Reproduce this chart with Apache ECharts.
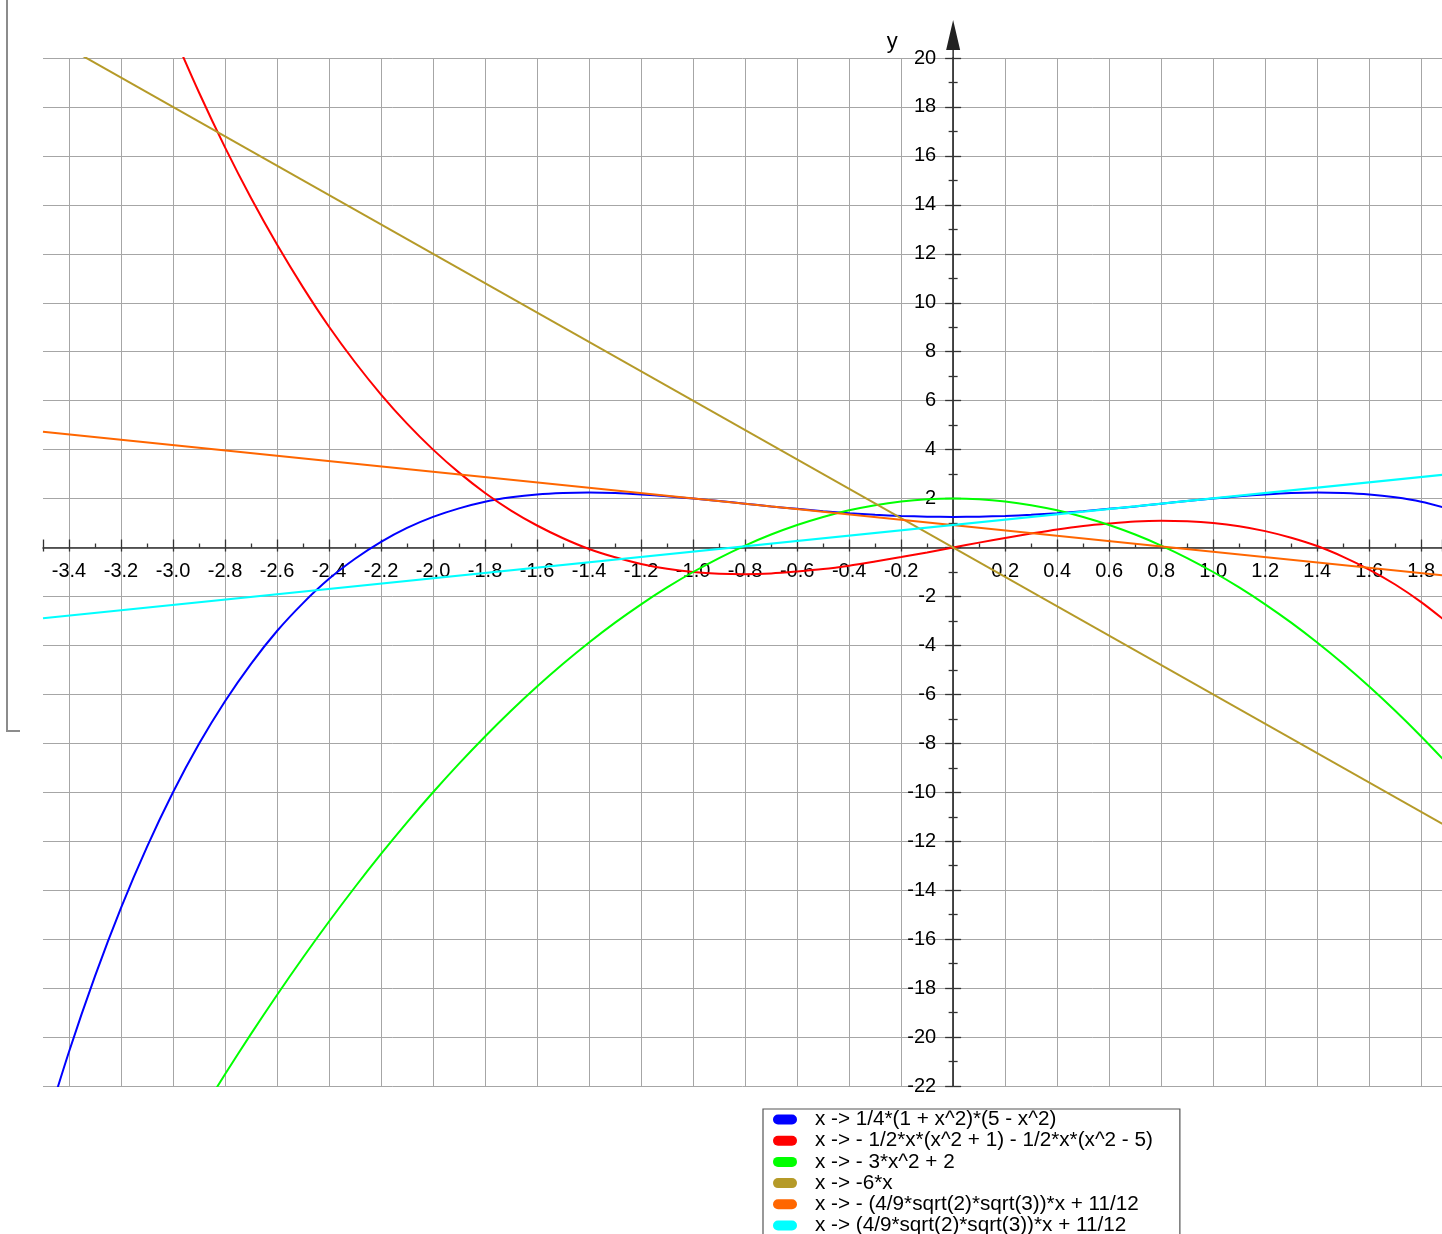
<!DOCTYPE html>
<html>
<head>
<meta charset="utf-8">
<title>plot</title>
<script src="https://cdn.jsdelivr.net/npm/echarts@6/dist/echarts.min.js"></script>
<style>
html, body { margin: 0; padding: 0; background: #fff; }
#main { width: 1442px; height: 1234px; }
</style>
</head>
<body>
<div id="main"></div>
<script>
// sample points along x
var xs = [-3.5, -3.4, -3.3, -3.2, -3.1, -3.0, -2.9, -2.8, -2.7, -2.6, -2.5, -2.4, -2.3, -2.2, -2.1,
    -2.0, -1.9, -1.8, -1.7, -1.6, -1.5, -1.4, -1.3, -1.2, -1.1, -1.0, -0.9, -0.8, -0.7, -0.6,
    -0.5, -0.4, -0.3, -0.2, -0.1, 0, 0.1, 0.2, 0.3, 0.4, 0.5, 0.6, 0.7, 0.8, 0.9,
    1.0, 1.1, 1.2, 1.3, 1.4, 1.5, 1.6, 1.7, 1.8, 1.9];

var blueY = [-24.02, -20.60, -17.51, -14.72, -12.23, -10.00, -8.02, -6.28, -4.75, -3.41, -2.27, -1.28, -0.46, 0.23, 0.80,
    1.25, 1.60, 1.87, 2.05, 2.17, 2.23, 2.25, 2.23, 2.17, 2.09, 2.00, 1.90, 1.79, 1.68, 1.58,
    1.48, 1.40, 1.34, 1.29, 1.26, 1.25, 1.26, 1.29, 1.34, 1.40, 1.48, 1.58, 1.68, 1.79, 1.90,
    2.00, 2.09, 2.17, 2.23, 2.25, 2.23, 2.17, 2.05, 1.87, 1.60];

var redY = [null, null, null, null, null, 21.00, 18.59, 16.35, 14.28, 12.38, 10.63, 9.02, 7.57, 6.25, 5.06,
    4.00, 3.06, 2.23, 1.51, 0.90, 0.38, -0.06, -0.40, -0.67, -0.87, -1.00, -1.07, -1.09, -1.06, -0.98,
    -0.88, -0.74, -0.57, -0.39, -0.20, 0, 0.20, 0.39, 0.57, 0.74, 0.88, 0.98, 1.06, 1.09, 1.07,
    1.00, 0.87, 0.67, 0.40, 0.06, -0.38, -0.90, -1.51, -2.23, -3.06];

var greenY = [null, null, null, null, null, null, -23.23, -21.52, -19.87, -18.28, -16.75, -15.28, -13.87, -12.52, -11.23,
    -10.00, -8.83, -7.72, -6.67, -5.68, -4.75, -3.88, -3.07, -2.32, -1.63, -1.00, -0.43, 0.08, 0.53, 0.92,
    1.25, 1.52, 1.73, 1.88, 1.97, 2.00, 1.97, 1.88, 1.73, 1.52, 1.25, 0.92, 0.53, 0.08, -0.43,
    -1.00, -1.63, -2.32, -3.07, -3.88, -4.75, -5.68, -6.67, -7.72, -8.83];

// straight lines: two end points each
var lineX = [-3.5, 1.9];
var oliveY = [21.0, -11.4];
var orangeY = [4.73, -1.15];
var cyanY = [-2.89, 2.99];

var names = [
    'x -> 1/4*(1 + x^2)*(5 - x^2)',
    'x -> - 1/2*x*(x^2 + 1) - 1/2*x*(x^2 - 5)',
    'x -> - 3*x^2 + 2',
    'x -> -6*x',
    'x -> - (4/9*sqrt(2)*sqrt(3))*x + 11/12',
    'x -> (4/9*sqrt(2)*sqrt(3))*x + 11/12'
];
var colors = ['#0000ff', '#ff0000', '#00ff00', '#b59a28', '#ff6600', '#00ffff'];

function pairs(xv, yv) {
    return xv.map(function (x, i) { return [x, yv[i]]; });
}

var seriesData = [
    pairs(xs, blueY),
    pairs(xs, redY),
    pairs(xs, greenY),
    pairs(lineX, oliveY),
    pairs(lineX, orangeY),
    pairs(lineX, cyanY)
];

var font = 'Liberation Sans';

// plot box and axis ranges
var gridLeft = 43, gridTop = 58, gridW = 1399, gridH = 1028;
var xMin = -3.5, xMax = 1.88, yMin = -22, yMax = 20;
// pixel position of the zero lines inside the grid, so the axes cross there
var zeroX = gridW * (0 - xMin) / (xMax - xMin);
var zeroY = gridH * (yMax - 0) / (yMax - yMin);

function xLabel(v) {
    var k = Math.round(v * 5);
    if (Math.abs(v * 5 - k) > 1e-6 || k === 0) return '';
    return (k / 5).toFixed(1);
}

var tickStyle = { color: '#333', width: 1.3 };

var myChart = echarts.init(document.getElementById('main'), null, { renderer: 'canvas' });

var option = {
    backgroundColor: '#ffffff',
    animation: false,
    textStyle: { fontFamily: font },
    grid: {
        left: gridLeft,
        top: gridTop,
        width: gridW,
        height: gridH,
        containLabel: false,
        outerBoundsMode: 'none'
    },
    legend: {
        orient: 'vertical',
        left: 763,
        top: 1109,
        height: 300,
        padding: [0, 27, 6, 10],
        itemGap: 0.2,
        itemWidth: 24,
        itemHeight: 10,
        icon: 'path://M5,0L19,0A5,5 0 0 1 19,10L5,10A5,5 0 0 1 5,0Z',
        itemStyle: { borderWidth: 0 },
        selectedMode: false,
        backgroundColor: '#ffffff',
        borderColor: '#555555',
        borderWidth: 1.2,
        borderRadius: 0,
        textStyle: {
            fontFamily: font,
            fontSize: 20.7,
            lineHeight: 20,
            color: '#000',
            padding: [0, 0, 0, 13]
        },
        data: names
    },
    xAxis: [
        {
            type: 'value',
            position: 'bottom',
            offset: -(gridH - zeroY),
            min: xMin,
            max: xMax,
            minInterval: 0.2,
            maxInterval: 0.2,
            axisLine: { onZero: false, lineStyle: { color: '#333', width: 1.5 } },
            axisTick: { show: true, length: 4, lineStyle: tickStyle },
            minorTick: { show: false },
            axisLabel: {
                margin: 14,
                fontSize: 20,
                fontFamily: font,
                color: '#000',
                formatter: xLabel
            },
            splitLine: {
                show: true,
                showMinLine: false,
                showMaxLine: false,
                lineStyle: { color: '#a6a6a6', width: 1 }
            }
        },
        {
            type: 'value',
            position: 'top',
            offset: -zeroY,
            min: xMin,
            max: xMax,
            minInterval: 0.2,
            maxInterval: 0.2,
            axisLine: { show: false, onZero: false },
            axisTick: { show: true, length: 8, lineStyle: tickStyle },
            minorTick: { show: true, splitNumber: 2, length: 4, lineStyle: tickStyle },
            axisLabel: { show: false },
            splitLine: { show: false }
        }
    ],
    yAxis: [
        {
            type: 'value',
            position: 'left',
            offset: -zeroX,
            min: yMin,
            max: yMax,
            interval: 2,
            name: 'y',
            nameLocation: 'end',
            nameGap: 5,
            nameTextStyle: {
                fontFamily: font,
                fontSize: 22,
                color: '#000',
                padding: [0, 122, 0, 0]
            },
            axisLine: {
                onZero: false,
                symbol: ['none', 'path://M7,0L14,30L7.7,30L7.7,38L6.3,38L6.3,30L0,30Z'],
                symbolSize: [14, 38],
                symbolOffset: [0, 19],
                lineStyle: { color: '#222', width: 1.6 }
            },
            axisTick: { show: true, length: 8, lineStyle: tickStyle },
            minorTick: { show: true, splitNumber: 2, length: 4.5, lineStyle: tickStyle },
            axisLabel: {
                margin: 17,
                fontSize: 20,
                fontFamily: font,
                color: '#000',
                padding: [2, 0, 0, 0],
                formatter: function (v) { return v === 0 ? '' : String(v); }
            },
            splitLine: {
                show: true,
                showMinLine: true,
                showMaxLine: true,
                lineStyle: { color: '#a6a6a6', width: 1 }
            }
        },
        {
            type: 'value',
            position: 'right',
            offset: -(gridW - zeroX),
            min: yMin,
            max: yMax,
            interval: 2,
            axisLine: { show: false, onZero: false },
            axisTick: { show: true, length: 8, lineStyle: tickStyle },
            minorTick: { show: true, splitNumber: 2, length: 4.5, lineStyle: tickStyle },
            axisLabel: { show: false },
            splitLine: { show: false }
        }
    ],
    graphic: [
        {
            type: 'polyline',
            shape: { points: [[7, -5], [7, 731], [20, 731]] },
            style: { stroke: '#8c8c8c', lineWidth: 2, fill: null }
        }
    ],
    series: names.map(function (name, i) {
        return {
            name: name,
            type: 'line',
            xAxisIndex: 0,
            yAxisIndex: 0,
            data: seriesData[i],
            showSymbol: false,
            smooth: 0.3,
            color: colors[i],
            lineStyle: { color: colors[i], width: 2 },
            clip: true
        };
    })
};

myChart.setOption(option);
</script>
</body>
</html>
